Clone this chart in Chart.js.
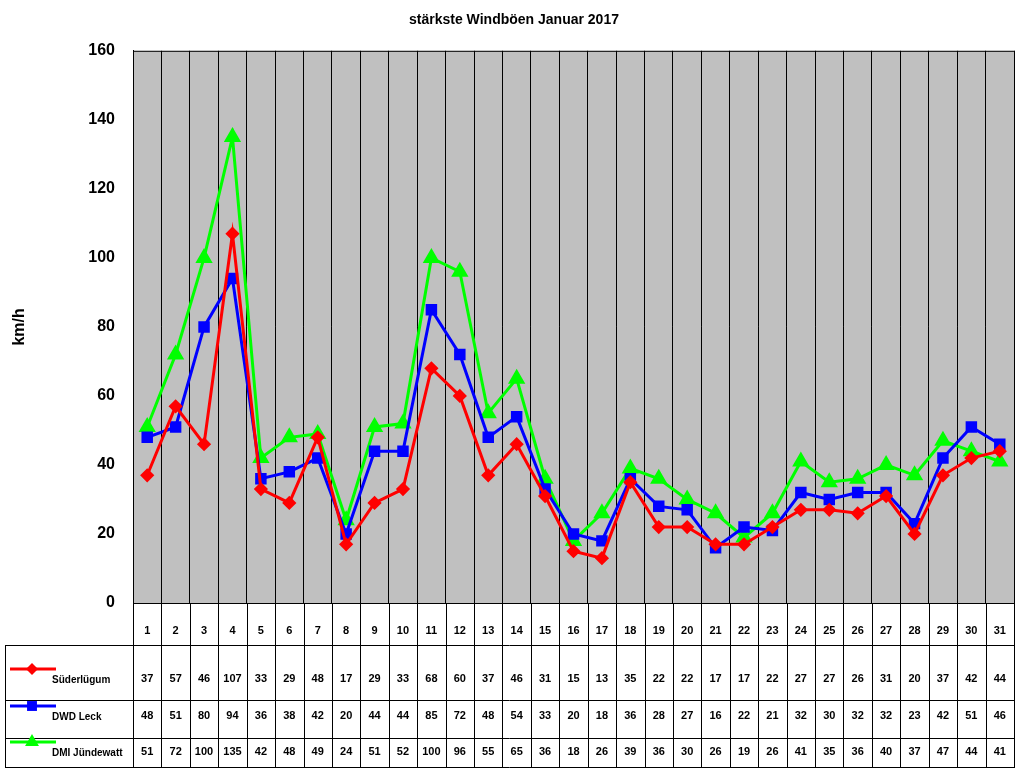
<!DOCTYPE html>
<html><head><meta charset="utf-8">
<script src="https://cdn.jsdelivr.net/npm/chart.js@4/dist/chart.umd.min.js"></script>
<style>html,body{margin:0;padding:0;background:#fff}</style>
</head><body>
<canvas id="c" width="1024" height="768"></canvas>
<script>
const days = Array.from({length:31},(_,i)=>String(i+1));
const seriesNames = ["Süderlügum","DWD Leck","DMI Jündewatt"];
const suederluegum = [37,57,46,107,33,29,48,17,29,33,68,60,37,46,31,15,13,35,22,22,17,17,22,27,27,26,31,20,37,42,44];
const dwdLeck = [48,51,80,94,36,38,42,20,44,44,85,72,48,54,33,20,18,36,28,27,16,22,21,32,30,32,32,23,42,51,46];
const dmiJuendewatt = [51,72,100,135,42,48,49,24,51,52,100,96,55,65,36,18,26,39,36,30,26,19,26,41,35,36,40,37,47,44,41];
const yTicks = [0,20,40,60,80,100,120,140,160];

const colors = ["#FF0000","#0000FF","#00FF00"];
const styles = ["rectRot","rect","triangle"];
const radii = [5,6,7];
const allData = [suederluegum,dwdLeck,dmiJuendewatt];

const tablePlugin = {
  id:'table',
  beforeDraw(chart){
    const {ctx, chartArea:a} = chart;
    ctx.save(); ctx.fillStyle="#C0C0C0";
    ctx.fillRect(a.left,a.top,a.right-a.left,a.bottom-a.top); ctx.restore();
  },
  afterDraw(chart){
    const {ctx, chartArea:a, scales:{x}} = chart;
    const rows=[a.bottom,645,700,738,768];
    ctx.save();
    ctx.strokeStyle="#000"; ctx.lineWidth=1;
    ctx.strokeRect(a.left+0.5,a.top+0.5,a.right-a.left,a.bottom-a.top);
    const w=(a.right-a.left)/days.length;
    ctx.beginPath();
    for(let i=0;i<=days.length;i++){const xx=Math.round(a.left+i*w)+0.5;ctx.moveTo(xx,a.bottom);ctx.lineTo(xx,768);}
    ctx.moveTo(5.5,rows[1]);ctx.lineTo(5.5,768);
    for(let r=1;r<rows.length;r++){const yy=Math.min(rows[r],767)+0.5;ctx.moveTo(5,yy);ctx.lineTo(a.right,yy);}
    ctx.stroke();
    ctx.fillStyle="#000"; ctx.font="bold 11px Arial"; ctx.textAlign="center"; ctx.textBaseline="middle";
    days.forEach((d,i)=>ctx.fillText(d,x.getPixelForValue(i),631));
    const ys=[679,716,752];
    allData.forEach((arr,s)=>{
      ctx.font="bold 11px Arial";
      arr.forEach((v,i)=>ctx.fillText(String(v),x.getPixelForValue(i),ys[s]));
      ctx.strokeStyle=colors[s]; ctx.lineWidth=3;
      ctx.beginPath();ctx.moveTo(10,ys[s]-10);ctx.lineTo(56,ys[s]-10);ctx.stroke();
      ctx.fillStyle=colors[s];
      Chart.helpers.drawPoint(ctx,{pointStyle:styles[s],radius:radii[s]+1,rotation:0},32,ys[s]-10);
      ctx.fillStyle="#000"; ctx.textAlign="left"; ctx.font="bold 10px Arial";
      ctx.fillText(seriesNames[s],52,ys[s]+1);
      ctx.textAlign="center";
    });
    ctx.restore();
  }
};

new Chart(document.getElementById('c'),{
  type:'line',
  data:{labels:days,datasets:allData.map((d,s)=>({label:seriesNames[s],data:d,borderColor:colors[s],backgroundColor:colors[s],
    borderWidth:3,pointStyle:styles[s],pointRadius:radii[s],pointBorderColor:colors[s],tension:0}))},
  options:{responsive:false,animation:false,
    layout:{padding:{right:2,left:6}},
    plugins:{legend:{display:false},tooltip:{enabled:false},
      title:{display:true,text:"stärkste Windböen Januar 2017",color:"#000",font:{family:"Arial",size:14,weight:"bold"},padding:{top:12,bottom:22}}},
    scales:{
      x:{offset:true,grid:{offset:true,color:"#000",drawTicks:false},border:{display:false},
        ticks:{display:false},afterFit(s){s.height=165;}},
      y:{min:0,max:160,grid:{display:false},border:{color:"#000"},
        afterBuildTicks(s){s.ticks=yTicks.map(v=>({value:v}));},
        ticks:{color:"#000",font:{family:"Arial",size:16,weight:"bold"},padding:10},
        title:{display:true,text:"km/h",color:"#000",font:{family:"Arial",size:16,weight:"bold"}},
        afterFit(s){s.width=127;}}
    }},
  plugins:[tablePlugin]
});
</script>
</body></html>
